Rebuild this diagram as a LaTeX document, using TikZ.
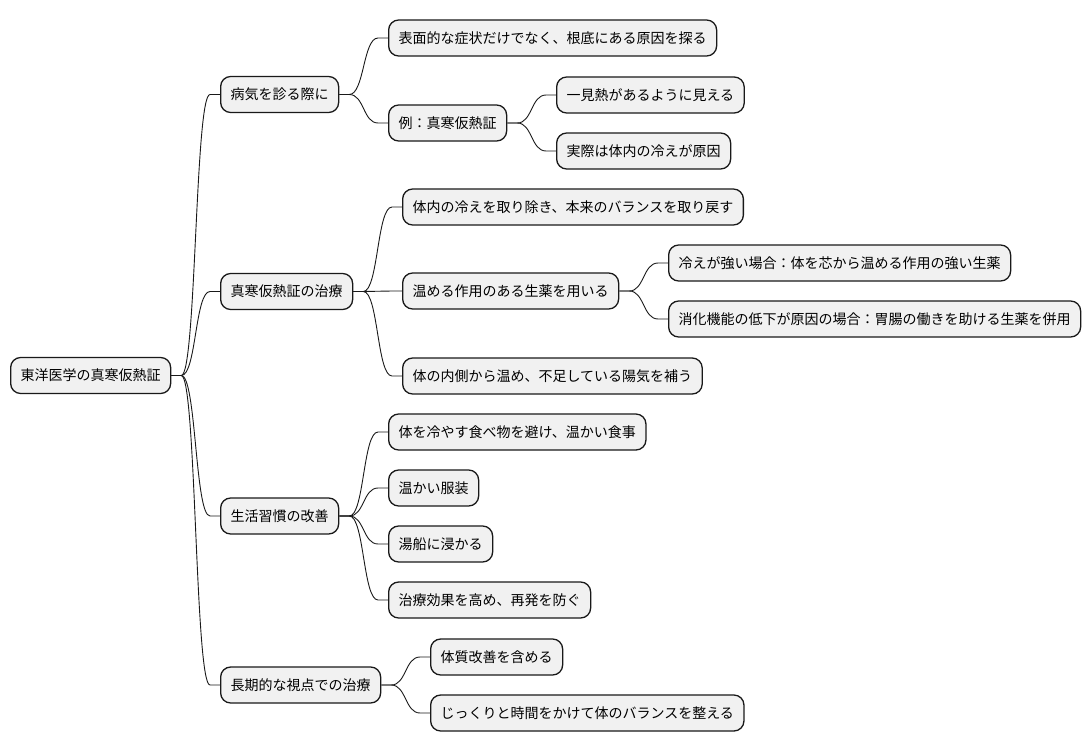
\documentclass[tikz,border=0pt]{standalone}
\usepackage{fontspec}
\setmainfont{Noto Sans CJK JP}
\usetikzlibrary{calc}
\tikzset{
  mmbox/.style={draw=black!90, fill=black!5.5, line width=1.3pt, rounded corners=10pt,
    minimum height=36pt, inner xsep=10pt, inner ysep=0pt, anchor=west,
    font=\fontsize{14pt}{16pt}\selectfont},
  conn/.style={draw=black!90, line width=0.9pt}
}
\newcommand{\mmlink}[2]{%
  \draw[conn] (#1.east) -- ([xshift=10pt]#1.east) .. controls ([xshift=25pt]#1.east) and ([xshift=-25pt]#2.west) .. ([xshift=-10pt]#2.west) -- (#2.west);}
\begin{document}
\begin{tikzpicture}[x=1pt,y=-1pt]
\useasboundingbox (0,0) rectangle (1090,752);
% root
\node[mmbox] (r) at (10,375.5) {東洋医学の真寒仮熱証};
% level 1
\node[mmbox] (a) at (220,94.5) {病気を診る際に};
\node[mmbox] (b) at (220,291.5) {真寒仮熱証の治療};
\node[mmbox] (c) at (220,516) {生活習慣の改善};
\node[mmbox] (d) at (220,685) {長期的な視点での治療};
% level 2
\node[mmbox] (a1) at (388,38) {表面的な症状だけでなく、根底にある原因を探る};
\node[mmbox] (a2) at (388,123) {例：真寒仮熱証};
\node[mmbox] (b1) at (402,207) {体内の冷えを取り除き、本来のバランスを取り戻す};
\node[mmbox] (b2) at (402,291) {温める作用のある生薬を用いる};
\node[mmbox] (b3) at (402,376) {体の内側から温め、不足している陽気を補う};
\node[mmbox] (c1) at (388,432) {体を冷やす食べ物を避け、温かい食事};
\node[mmbox] (c2) at (388,488) {温かい服装};
\node[mmbox] (c3) at (388,544) {湯船に浸かる};
\node[mmbox] (c4) at (388,600) {治療効果を高め、再発を防ぐ};
\node[mmbox] (d1) at (430,657) {体質改善を含める};
\node[mmbox] (d2) at (430,713) {じっくりと時間をかけて体のバランスを整える};
% level 3
\node[mmbox] (a21) at (556,95) {一見熱があるように見える};
\node[mmbox] (a22) at (556,151) {実際は体内の冷えが原因};
\node[mmbox] (b21) at (668,263) {冷えが強い場合：体を芯から温める作用の強い生薬};
\node[mmbox] (b22) at (668,319) {消化機能の低下が原因の場合：胃腸の働きを助ける生薬を併用};
% connectors
\mmlink{r}{a}\mmlink{r}{b}\mmlink{r}{c}\mmlink{r}{d}
\mmlink{a}{a1}\mmlink{a}{a2}
\mmlink{a2}{a21}\mmlink{a2}{a22}
\mmlink{b}{b1}\mmlink{b}{b2}\mmlink{b}{b3}
\mmlink{b2}{b21}\mmlink{b2}{b22}
\mmlink{c}{c1}\mmlink{c}{c2}\mmlink{c}{c3}\mmlink{c}{c4}
\mmlink{d}{d1}\mmlink{d}{d2}
\end{tikzpicture}
\end{document}
